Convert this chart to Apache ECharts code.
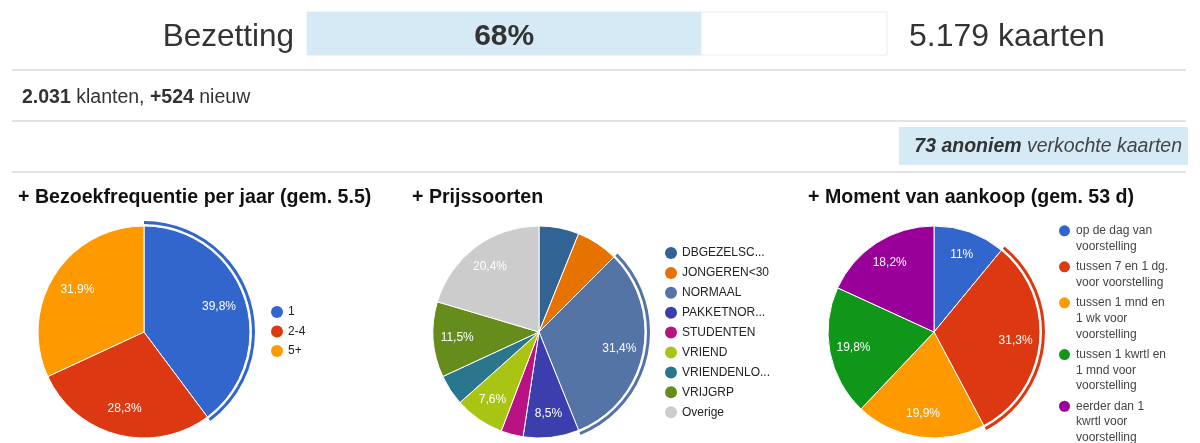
<!DOCTYPE html>
<html>
<head>
<meta charset="utf-8">
<script src="https://cdn.jsdelivr.net/npm/echarts@6/dist/echarts.min.js"></script>
<style>
  html, body { margin: 0; padding: 0; background: #fff; }
  #chart { width: 1200px; height: 443px; }
</style>
</head>
<body>
<div id="chart"></div>
<script>
// kerncijfers
const bezetting = 68
const kaarten = '5.179'
const klanten = '2.031'
const nieuw = '+524'
const anoniem = 73

// Bezoekfrequentie per jaar
const freqNames = ['1', '2-4', '5+']
const freqValues = [39.8, 28.3, 31.9]

// Prijssoorten
const prijsNames = ['DBGEZELSC...', 'JONGEREN<30', 'NORMAAL', 'PAKKETNOR...', 'STUDENTEN', 'VRIEND', 'VRIENDENLO...', 'VRIJGRP', 'Overige']
const prijsValues = [6.1, 6.4, 31.4, 8.5, 3.4, 7.6, 4.7, 11.5, 20.4]

// Moment van aankoop
const momentNames = [
  'op de dag van voorstelling',
  'tussen 7 en 1 dg. voor voorstelling',
  'tussen 1 mnd en 1 wk voor voorstelling',
  'tussen 1 kwrtl en 1 mnd voor voorstelling',
  'eerder dan 1 kwrtl voor voorstelling',
]
const momentLegendLines = [
  ['op de dag van', 'voorstelling'],
  ['tussen 7 en 1 dg.', 'voor voorstelling'],
  ['tussen 1 mnd en', '1 wk voor', 'voorstelling'],
  ['tussen 1 kwrtl en', '1 mnd voor', 'voorstelling'],
  ['eerder dan 1', 'kwrtl voor', 'voorstelling'],
]
const momentValues = [11, 31.3, 19.9, 19.8, 18.2]

const freqColors = ['#3366cc', '#dc3912', '#ff9900']
const prijsColors = ['#316395', '#e67300', '#5574a6', '#3b3eac', '#b91383', '#a9c413', '#2a778d', '#668d1c', '#cccccc']
const momentColors = ['#3366cc', '#dc3912', '#ff9900', '#109618', '#990099']

const FONT = 'Liberation Sans, Arial, Helvetica, sans-serif'
const R = 106

function pct(v) {
  return String(v).replace('.', ',') + '%'
}

// basis-taart, transparante ring voor de labels, en de markeerring om de grootste schijf
function pieSeries(names, values, colors, cx, labelInner, minLabel) {
  const maxIdx = values.indexOf(Math.max(...values))
  const center = [cx, 332]
  return [
    {
      type: 'pie', center, radius: [0, R], silent: true,
      label: { show: false }, labelLine: { show: false },
      itemStyle: { borderColor: '#fff', borderWidth: 1 },
      data: names.map((n, i) => ({ name: n, value: values[i], itemStyle: { color: colors[i] } })),
    },
    {
      type: 'pie', center, radius: [labelInner, R], silent: true,
      itemStyle: { color: 'transparent' },
      labelLine: { show: false },
      label: {
        show: true, position: 'inside', color: '#fff', fontSize: 12, fontFamily: FONT,
        formatter: (p) => (p.value >= minLabel ? pct(p.value) : ''),
      },
      data: names.map((n, i) => ({ name: n, value: values[i] })),
    },
    {
      type: 'pie', center, radius: [R + 2, R + 5], silent: true,
      label: { show: false }, labelLine: { show: false },
      data: names.map((n, i) => ({
        name: n, value: values[i],
        itemStyle: { color: i === maxIdx ? colors[i] : 'transparent' },
      })),
    },
  ]
}

const momentRich = {
  g: { width: 6, lineHeight: 15.7 },
  s: { width: 17, lineHeight: 15.7 },
  t: { fontSize: 12, fontFamily: FONT, color: '#444', lineHeight: 15.7 },
}
momentColors.forEach((c, i) => {
  momentRich['d' + i] = { width: 11, height: 11, borderRadius: 5.5, backgroundColor: c, lineHeight: 15.7 }
})

const titleStyle = { fontSize: 19.6, fontWeight: 'bold', color: '#111', fontFamily: FONT }
const legendText = { fontSize: 12, color: '#222', fontFamily: FONT }

const option = {
  animation: false,
  title: [
    { text: '+ Bezoekfrequentie per jaar (gem. 5.5)', left: 18, top: 188, padding: 0, textStyle: titleStyle },
    { text: '+ Prijssoorten', left: 412, top: 188, padding: 0, textStyle: titleStyle },
    { text: '+ Moment van aankoop (gem. 53 d)', left: 808, top: 188, padding: 0, textStyle: titleStyle },
  ],
  legend: [
    {
      orient: 'vertical', left: 271, top: 306, padding: 0, icon: 'circle',
      itemWidth: 12, itemHeight: 12, itemGap: 7.5, itemStyle: { borderWidth: 0 },
      textStyle: legendText, data: freqNames,
    },
    {
      orient: 'vertical', left: 665, top: 247, padding: 0, icon: 'circle',
      itemWidth: 12, itemHeight: 12, itemGap: 7.9, itemStyle: { borderWidth: 0 },
      textStyle: legendText, data: prijsNames,
    },
    {
      orient: 'vertical', left: 1054, top: 223, height: 260, padding: 0, icon: 'none',
      itemWidth: 0, itemHeight: 0, itemGap: 4.6,
      textStyle: { fontSize: 12, fontFamily: FONT, color: '#444', lineHeight: 15.7, rich: momentRich },
      formatter: (name) => {
        const i = momentNames.indexOf(name)
        const lines = momentLegendLines[i]
        let s = '{d' + i + '|}{g|}{t|' + lines[0] + '}'
        lines.slice(1).forEach((l) => { s += '\n{s|}{t|' + l + '}' })
        return s
      },
      data: momentNames,
    },
  ],
  grid: {
    left: 307, top: 12, width: 580, height: 43,
    show: true, borderColor: '#e3ecef', borderWidth: 1, backgroundColor: '#fff',
  },
  xAxis: { type: 'value', min: 0, max: 100, show: false },
  yAxis: { type: 'category', data: ['Bezetting'], show: false },
  graphic: [
    {
      type: 'text', x: 294, y: 37,
      style: { text: 'Bezetting', align: 'right', verticalAlign: 'middle', fontSize: 31.5, fontFamily: FONT, fill: '#333' },
    },
    {
      type: 'text', x: 909, y: 37,
      style: { text: kaarten + ' kaarten', align: 'left', verticalAlign: 'middle', fontSize: 32, fontFamily: FONT, fill: '#333' },
    },
    { type: 'line', shape: { x1: 12, y1: 70, x2: 1186, y2: 70 }, style: { stroke: '#e2e2e2', lineWidth: 2 } },
    { type: 'line', shape: { x1: 12, y1: 121, x2: 1186, y2: 121 }, style: { stroke: '#e2e2e2', lineWidth: 2 } },
    { type: 'line', shape: { x1: 12, y1: 172, x2: 1186, y2: 172 }, style: { stroke: '#e2e2e2', lineWidth: 2 } },
    {
      type: 'text', x: 22, y: 98,
      style: {
        text: '{b|' + klanten + '} klanten, {b|' + nieuw + '} nieuw',
        align: 'left', verticalAlign: 'middle', fontSize: 19.5, fontFamily: FONT, fill: '#333',
        rich: { b: { fontSize: 19.5, fontFamily: FONT, fontWeight: 'bold', fill: '#333' } },
      },
    },
    { type: 'rect', shape: { x: 899, y: 127, width: 289, height: 38 }, style: { fill: '#d6eaf5' } },
    {
      type: 'text', x: 1182, y: 147,
      style: {
        text: '{b|' + anoniem + ' anoniem} verkochte kaarten',
        align: 'right', verticalAlign: 'middle', fontSize: 19.5, fontStyle: 'italic', fontFamily: FONT, fill: '#444',
        rich: { b: { fontSize: 19.5, fontStyle: 'italic', fontWeight: 'bold', fontFamily: FONT, fill: '#333' } },
      },
    },
  ],
  series: [
    {
      type: 'bar', data: [bezetting], barWidth: '100%', silent: true,
      itemStyle: { color: '#d6eaf5' },
      label: {
        show: true, position: 'inside', offset: [0, 3], formatter: '{c}%',
        fontSize: 30, fontWeight: 'bold', color: '#333', fontFamily: FONT,
      },
    },
    ...pieSeries(freqNames, freqValues, freqColors, 144, 46, 5),
    ...pieSeries(prijsNames, prijsValues, prijsColors, 539, 52, 7),
    ...pieSeries(momentNames, momentValues, momentColors, 934, 52, 5),
  ],
}

const myChart = echarts.init(document.getElementById('chart'))
myChart.setOption(option)
</script>
</body>
</html>
